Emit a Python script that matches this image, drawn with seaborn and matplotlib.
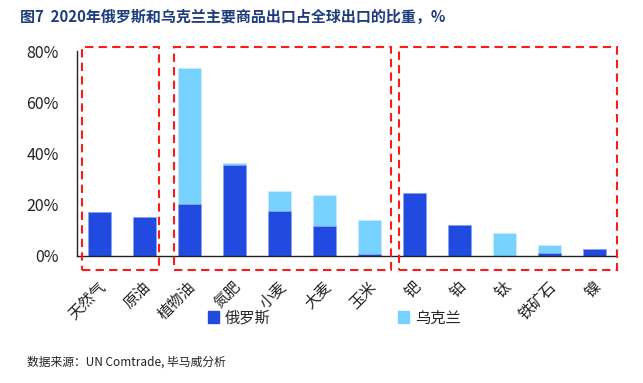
import numpy as np
import pandas as pd
import matplotlib
matplotlib.use("Agg")
import matplotlib.pyplot as plt
import matplotlib.transforms as mtransforms
import seaborn as sns
from matplotlib.patches import Rectangle, Patch

# data (share of global exports, %)
categories = ["天然气", "原油", "植物油", "氮肥", "小麦", "大麦", "玉米",
              "钯", "铂", "钛", "铁矿石", "镍"]
russia = [17.0, 15.1, 20.4, 35.4, 17.6, 11.8, 0.8, 24.5, 12.2, 0.0, 1.2, 2.7]
ukraine = [0.0, 0.0, 53.1, 0.8, 7.9, 12.1, 13.4, 0.0, 0.0, 9.0, 3.1, 0.0]
groups = [(0, 1), (2, 6), (7, 11)]  # energy / agri / metals boxes

df = pd.DataFrame({"商品": categories, "俄罗斯": russia, "乌克兰": ukraine})
df["合计"] = df["俄罗斯"] + df["乌克兰"]

dark = "#204AE0"
light = "#78D2FF"

sns.set_style("white")
plt.rcParams["font.family"] = ["Noto Sans CJK SC", "DejaVu Sans"]

fig = plt.figure(figsize=(6.43, 3.83), dpi=100)
ax = fig.add_axes([0.1198, 0.3316, 0.8398, 0.5345])

sns.barplot(data=df, x="商品", y="合计", color=light, width=0.5, ax=ax,
            saturation=1, edgecolor="#c8ecff", linewidth=0.6)
sns.barplot(data=df, x="商品", y="俄罗斯", color=dark, width=0.5, ax=ax,
            saturation=1, edgecolor="#8fa5f0", linewidth=0.6)

ax.set_xlim(-0.5, len(categories) - 0.5)
ax.set_ylim(0, 80)
ax.set_yticks([0, 20, 40, 60, 80])
ax.set_yticklabels([f"{v}%" for v in [0, 20, 40, 60, 80]], fontsize=11.5, color="#222222")
ax.set_xlabel("")
ax.set_ylabel("")
ax.set_xticks(range(len(categories)))
ax.set_xticklabels(categories, rotation=45, ha="right", va="center",
                   rotation_mode="anchor", fontsize=11, color="#222222")
ax.tick_params(axis="x", which="major", length=0, pad=20.5)
ax.set_xticks(np.arange(-0.5, len(categories)), minor=True)
ax.tick_params(axis="x", which="minor", length=5, direction="out", color="#555555")
ax.tick_params(axis="y", length=4, direction="out", color="#333333", pad=9)

# nudge the rotated labels a little to the right
shift = mtransforms.ScaledTranslation(4 / 100, 0, fig.dpi_scale_trans)
for lab in ax.get_xticklabels():
    lab.set_transform(lab.get_transform() + shift)

sns.despine(ax=ax)
for s in ["left", "bottom"]:
    ax.spines[s].set_color("#222222")
    ax.spines[s].set_linewidth(1.0)

# red dashed group boxes
for a, b in groups:
    x0 = a - 0.39 if a == 0 else a - 0.35
    x1 = b + 0.32 if a == 0 else b + 0.48
    if b == len(categories) - 1:
        x1 = b + 0.5
    rect = Rectangle((x0, -5.5), x1 - x0, 87.1, fill=False, edgecolor="#FF1A1A",
                     linestyle=(0, (4, 2.5)), linewidth=1.5, clip_on=False,
                     transform=ax.transData, zorder=5)
    ax.add_patch(rect)

handles = [Patch(color=dark, label="俄罗斯"), Patch(color=light, label="乌克兰")]
fig.legend(handles=handles, loc="center", bbox_to_anchor=(0.52, 0.17), ncol=2,
           frameon=False, fontsize=11, handlelength=0.75, handleheight=0.75,
           handletextpad=0.4, columnspacing=8.3)

fig.text(0.031, 0.955, "图7  2020年俄罗斯和乌克兰主要商品出口占全球出口的比重，%",
         fontsize=10.8, fontweight="bold", color="#1F3C7E", va="center")
fig.text(0.042, 0.055, "数据来源：UN Comtrade, 毕马威分析", fontsize=8.5,
         color="#222222", va="center")

fig.savefig("out.png", dpi=100)
